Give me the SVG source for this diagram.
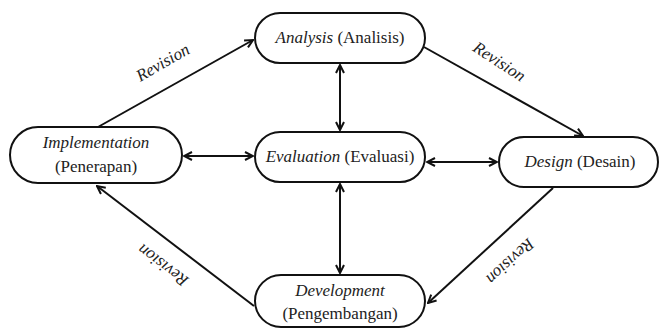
<svg xmlns="http://www.w3.org/2000/svg" width="661" height="329" viewBox="0 0 661 329">
<style>
.box{fill:#fff;stroke:#111;stroke-width:2}
.t{font-family:"Liberation Serif","DejaVu Serif",serif;font-size:17px;fill:#222;text-anchor:middle}
.i{font-style:italic}
.rv{font-family:"Liberation Serif","DejaVu Serif",serif;font-size:17px;font-style:italic;fill:#222;text-anchor:middle}
.ln{stroke:#111;stroke-width:2;fill:none}
</style>
<defs>
<marker id="ah" viewBox="0 0 10 10" refX="9" refY="5" markerWidth="10" markerHeight="10" markerUnits="userSpaceOnUse" orient="auto-start-reverse">
<path d="M1,1 L9,5 L1,9" fill="none" stroke="#111" stroke-width="2"/>
</marker>
</defs>
<rect width="661" height="329" fill="#fff"/>
<g id="connectors">
<line class="ln" x1="98" y1="127" x2="253" y2="40" marker-end="url(#ah)"/>
<line class="ln" x1="424" y1="47" x2="583" y2="136" marker-end="url(#ah)"/>
<line class="ln" x1="553" y1="188" x2="428" y2="303" marker-end="url(#ah)"/>
<line class="ln" x1="254" y1="306" x2="97" y2="186" marker-end="url(#ah)"/>
<line class="ln" x1="340" y1="65" x2="340" y2="130" marker-start="url(#ah)" marker-end="url(#ah)"/>
<line class="ln" x1="340" y1="184" x2="340" y2="273" marker-start="url(#ah)" marker-end="url(#ah)"/>
<line class="ln" x1="184" y1="156" x2="253" y2="156" marker-start="url(#ah)" marker-end="url(#ah)"/>
<line class="ln" x1="427" y1="162" x2="497" y2="162" marker-start="url(#ah)" marker-end="url(#ah)"/>
<text class="rv" transform="translate(163,63) rotate(-30)" y="5">Revision</text>
<text class="rv" transform="translate(499,62) rotate(33)" y="5">Revision</text>
<text class="rv" transform="translate(510,261) rotate(137)" y="5">Revision</text>
<text class="rv" transform="translate(163,265) rotate(217)" y="5">Revision</text>
</g>
<g id="analysis">
<rect class="box" x="255" y="13" width="170" height="50" rx="25"/>
<text class="t" x="340" y="43"><tspan class="i">Analysis</tspan> (Analisis)</text>
</g>
<g id="implementation">
<rect class="box" x="10" y="127" width="172" height="56" rx="28"/>
<text class="t" x="96" y="148"><tspan class="i">Implementation</tspan></text>
<text class="t" x="96" y="172">(Penerapan)</text>
</g>
<g id="evaluation">
<rect class="box" x="255" y="132" width="170" height="50" rx="25"/>
<text class="t" x="340" y="162"><tspan class="i">Evaluation</tspan> (Evaluasi)</text>
</g>
<g id="design">
<rect class="box" x="499" y="137" width="159" height="50" rx="25"/>
<text class="t" x="580" y="167"><tspan class="i">Design</tspan> (Desain)</text>
</g>
<g id="development">
<rect class="box" x="255" y="275" width="170" height="52" rx="26"/>
<text class="t" x="340" y="296"><tspan class="i">Development</tspan></text>
<text class="t" x="340" y="319">(Pengembangan)</text>
</g>
</svg>
